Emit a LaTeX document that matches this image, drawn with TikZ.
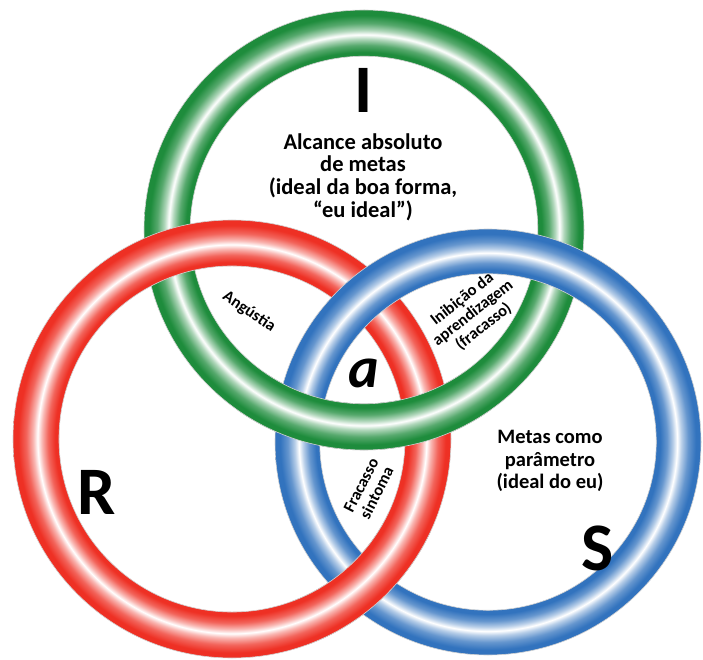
\documentclass[tikz,border=0pt]{standalone}
\usepackage{fontspec}
\setmainfont{Carlito}
\definecolor{ringgreen}{RGB}{30,140,60}
\definecolor{ringred}{RGB}{238,48,36}
\definecolor{ringblue}{RGB}{50,115,190}

% tube look: full colour at both edges, white in the middle
% (path box is mapped onto 25bp, inner edge at 0.79 of it)
\newcommand{\declaretube}[2]{%
  \pgfdeclareradialshading{#1}{\pgfpoint{0bp}{0bp}}{%
    color(0bp)=(#2); color(19.75bp)=(#2); color(20.2bp)=(#2);
    color(21bp)=(#2!75!white); color(21.7bp)=(#2!35!white);
    color(22.2bp)=(white);
    color(22.7bp)=(#2!35!white); color(23.5bp)=(#2!75!white);
    color(24.4bp)=(#2); color(50bp)=(#2)}}
\declaretube{tubegreen}{ringgreen}
\declaretube{tubered}{ringred}
\declaretube{tubeblue}{ringblue}

\newcommand{\ringfill}[3]{% centre, shading, outer radius
  \shade[shading=#2, even odd rule] (#1) circle[radius=#3] (#1) circle[radius=0.79*#3];
  \draw[ringedge] (#1) circle[radius=#3] (#1) circle[radius=0.79*#3];}

\begin{document}
\begin{tikzpicture}[x=1pt, y=1pt,
  ringedge/.style={gray!35, line width=0.6pt},
  big/.style={font=\fontsize{68}{68}\selectfont\bfseries, inner sep=0pt},
  lbl/.style={font=\fontsize{22.5}{22.7}\selectfont\bfseries, align=center, inner sep=0pt},
  small/.style={font=\fontsize{16.5}{17.5}\selectfont\bfseries, align=center, inner sep=0pt}
  ]
  \useasboundingbox (0,0) rectangle (703,659);
  \coordinate (g) at (364,429);
  \coordinate (r) at (232,220);
  \coordinate (b) at (488,217);
  % the three rings
  \ringfill{g}{tubegreen}{220}
  \ringfill{r}{tubered}{219}
  \ringfill{b}{tubeblue}{213}
  % pieces that pass over
  \begin{scope}
    \clip (r) -- ([shift={(-70:260)}]r) -- ([shift={(-47:300)}]r) -- ([shift={(-25:260)}]r) -- cycle;
    \ringfill{r}{tubered}{219}
  \end{scope}
  \begin{scope}
    \clip (g) -- ([shift={(-125:260)}]g) -- ([shift={(-90:300)}]g) -- ([shift={(-55:260)}]g) -- cycle;
    \ringfill{g}{tubegreen}{220}
  \end{scope}
  % letters
  \node[big] (I) at (364,569) {I};
  \node[big] (R) at (97,167) {R};
  \node[big] (S) at (598,111) {S};
  \node[font=\fontsize{58}{58}\selectfont\bfseries\itshape, inner sep=0pt] (a) at (364,286) {a};
  % texts
  \node[lbl] (ideal) at (363,482) {Alcance absoluto\\de metas\\(ideal da boa forma,\\“eu ideal”)};
  \node[lbl, font=\fontsize{20.5}{22.5}\selectfont\bfseries] (metas) at (550,198) {Metas como\\parâmetro\\(ideal do eu)};
  \node[small, rotate=-34] (ang) at (249,347) {Angústia};
  \node[small, rotate=38] (inib) at (473,346) {Inibição da\\aprendizagem\\(fracasso)};
  \node[small, rotate=63] (frac) at (369,170) {Fracasso\\sintoma};
\end{tikzpicture}
\end{document}
